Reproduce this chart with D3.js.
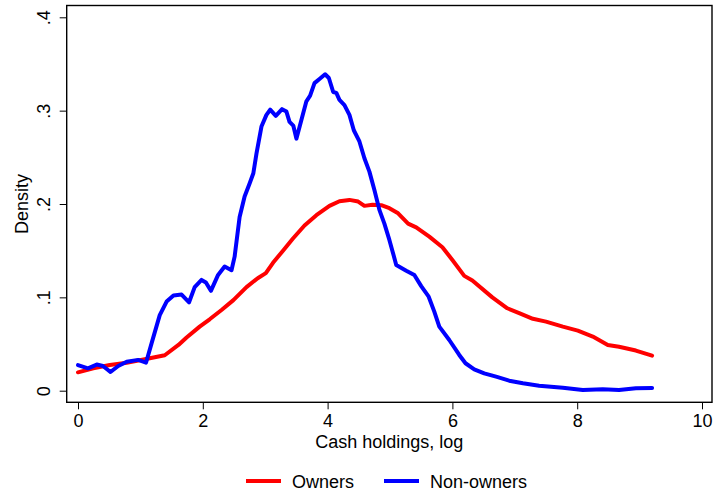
<!DOCTYPE html>
<html lang="en">
<head>
    <meta charset="UTF-8">
    <title>Cash holdings density</title>
    <script src="https://d3js.org/d3.v7.min.js"></script>
    <style>
        body {
            margin: 0;
            background: #fff;
        }
        svg text {
            font-family: "Liberation Sans", Arial, sans-serif;
            font-size: 18px;
            fill: #000;
        }
        .curve {
            fill: none;
            stroke-width: 4;
            stroke-linejoin: round;
            stroke-linecap: round;
        }
    </style>
</head>
<body>
<script>

    // Owners
    const ownersX = [0.00, 0.245, 0.51, 0.78, 1.07, 1.39, 1.61, 1.74, 1.95, 2.11, 2.30, 2.49, 2.70, 2.88,
        3.01, 3.125, 3.285, 3.445, 3.63, 3.82, 4.03, 4.19, 4.35, 4.49, 4.59, 4.72, 4.86, 4.99, 5.13,
        5.29, 5.42, 5.63, 5.84, 6.00, 6.19, 6.32, 6.64, 6.88, 7.07, 7.29, 7.50, 7.77, 8.01, 8.25,
        8.49, 8.67, 8.94, 9.20];
    const ownersY = [0.0197, 0.024, 0.0275, 0.030, 0.0336, 0.038, 0.049, 0.057, 0.0686, 0.0765, 0.0865,
        0.097, 0.111, 0.1205, 0.126, 0.137, 0.150, 0.163, 0.177, 0.188, 0.198, 0.203, 0.2044, 0.2026,
        0.198, 0.1993, 0.1987, 0.1955, 0.190, 0.179, 0.175, 0.165, 0.1537, 0.140, 0.123, 0.118, 0.100,
        0.0883, 0.083, 0.077, 0.074, 0.0686, 0.0643, 0.058, 0.049, 0.047, 0.043, 0.0375];

    // Non-owners
    const nonOwnersX = [0.00, 0.16, 0.30, 0.40, 0.52, 0.645, 0.78, 0.965, 1.09, 1.18, 1.31, 1.42, 1.53,
        1.66, 1.78, 1.87, 1.98, 2.05, 2.13, 2.245, 2.35, 2.46, 2.51, 2.59, 2.67, 2.75, 2.81, 2.86,
        2.94, 3.02, 3.08, 3.17, 3.27, 3.34, 3.39, 3.45, 3.50, 3.58, 3.66, 3.72, 3.79, 3.87, 3.96,
        4.02, 4.09, 4.14, 4.19, 4.27, 4.35, 4.42, 4.51, 4.59, 4.67, 4.75, 4.83, 4.91, 4.99, 5.05,
        5.10, 5.26, 5.39, 5.50, 5.62, 5.71, 5.79, 5.95, 6.11, 6.21, 6.35, 6.51, 6.70, 6.91, 7.13,
        7.39, 7.77, 8.09, 8.41, 8.67, 8.94, 9.20];
    const nonOwnersY = [0.0275, 0.024, 0.028, 0.0265, 0.020, 0.0265, 0.031, 0.033, 0.030, 0.051, 0.081,
        0.0955, 0.102, 0.103, 0.0947, 0.111, 0.1187, 0.116, 0.107, 0.124, 0.133, 0.129, 0.1436, 0.186,
        0.208, 0.222, 0.233, 0.254, 0.283, 0.2955, 0.301, 0.2945, 0.3016, 0.299, 0.288, 0.284, 0.270,
        0.290, 0.310, 0.316, 0.3295, 0.334, 0.339, 0.335, 0.320, 0.319, 0.3116, 0.306, 0.2955, 0.279,
        0.267, 0.249, 0.2347, 0.215, 0.1937, 0.179, 0.1615, 0.147, 0.1347, 0.1286, 0.124, 0.112,
        0.1007, 0.0847, 0.0686, 0.0543, 0.0383, 0.0294, 0.0229, 0.0186, 0.015, 0.0107, 0.0079,
        0.0054, 0.0032, 0.0008, 0.0015, 0.0008, 0.0026, 0.003];

    const xTicks = [0, 2, 4, 6, 8, 10];
    const yTicks = [0, 0.1, 0.2, 0.3, 0.4];
    const yTickLabels = ["0", ".1", ".2", ".3", ".4"];
    const seriesNames = ["Owners", "Non-owners"];
    const seriesColors = ["#ff0000", "#0000ff"];

    const width = 714, height = 495;
    const frame = {left: 66.7, top: 5.5, right: 712, bottom: 402.3};

    const svg = d3.select("body")
        .append("svg")
        .attr("width", width)
        .attr("height", height);

    const x = d3.scaleLinear().domain([0, 10]).range([78, 702]);
    const y = d3.scaleLinear().domain([0, 0.4]).range([390.7, 17.3]);

    // axes
    const yAxis = svg.append("g")
        .attr("transform", `translate(${frame.left},0)`)
        .call(d3.axisLeft(y).tickValues(yTicks).tickSize(7)
            .tickFormat((d, i) => yTickLabels[i]));
    yAxis.select(".domain").remove();
    yAxis.selectAll(".tick line").attr("stroke", "#000");
    yAxis.selectAll(".tick text")
        .attr("x", null).attr("dy", null)
        .attr("text-anchor", "middle")
        .attr("transform", "translate(-16.7,0) rotate(-90)")
        .style("font-size", "18px")
        .style("font-family", "'Liberation Sans', Arial, sans-serif");

    const xAxis = svg.append("g")
        .attr("transform", `translate(0,${frame.bottom})`)
        .call(d3.axisBottom(x).tickValues(xTicks).tickSize(7).tickFormat(d3.format("d")));
    xAxis.select(".domain").remove();
    xAxis.selectAll(".tick line").attr("stroke", "#000");
    xAxis.selectAll(".tick text")
        .attr("y", 24.7).attr("dy", null)
        .style("font-size", "18px")
        .style("font-family", "'Liberation Sans', Arial, sans-serif");

    // frame
    svg.append("rect")
        .attr("x", frame.left)
        .attr("y", frame.top)
        .attr("width", frame.right - frame.left)
        .attr("height", frame.bottom - frame.top)
        .attr("fill", "none")
        .attr("stroke", "#000")
        .attr("stroke-width", 1.4);

    // curves
    const line = d3.line()
        .x(d => x(d[0]))
        .y(d => y(d[1]));

    const series = [
        d3.zip(ownersX, ownersY),
        d3.zip(nonOwnersX, nonOwnersY)
    ];

    svg.selectAll("path.curve")
        .data(series)
        .enter().append("path")
        .attr("class", "curve")
        .attr("stroke", (d, i) => seriesColors[i])
        .attr("d", line);

    // axis titles
    svg.append("text")
        .attr("x", (frame.left + frame.right) / 2)
        .attr("y", 448.3)
        .attr("text-anchor", "middle")
        .text("Cash holdings, log");

    svg.append("text")
        .attr("transform", `translate(28.3,${(frame.top + frame.bottom) / 2}) rotate(-90)`)
        .attr("text-anchor", "middle")
        .text("Density");

    // legend
    const legendX = [246, 384];
    const legend = svg.selectAll("g.legend")
        .data(seriesNames)
        .enter().append("g")
        .attr("class", "legend")
        .attr("transform", (d, i) => `translate(${legendX[i]},481)`);

    legend.append("line")
        .attr("x1", 0).attr("x2", 35)
        .attr("stroke", (d, i) => seriesColors[i])
        .attr("stroke-width", 4);

    legend.append("text")
        .attr("x", 46)
        .attr("y", 7.3)
        .text(d => d);

</script>
</body>
</html>
